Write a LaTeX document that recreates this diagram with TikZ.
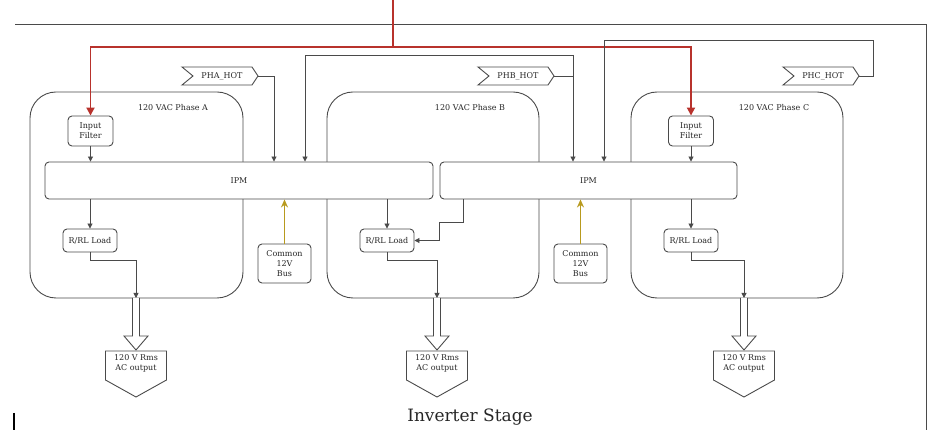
\documentclass[tikz,border=0pt]{standalone}
\usepackage{fontspec}
\setmainfont{DejaVu Serif}
\usetikzlibrary{arrows.meta,calc}
\definecolor{lc}{HTML}{4A4A4A}
\definecolor{tc}{HTML}{262626}
\definecolor{redc}{HTML}{B8322C}
\definecolor{goldc}{HTML}{B89A1E}
\tikzset{
  wire/.style={draw=lc,line width=0.9pt},
  arr/.style={wire,-{Triangle[length=5pt,width=5pt]}},
  redw/.style={draw=redc,line width=1.8pt},
  redarr/.style={redw,-{Triangle[length=8pt,width=8pt]}},
  goldarr/.style={draw=goldc,line width=1.6pt,-{Stealth[length=8pt,width=7pt]}},
  blk/.style={draw=lc,line width=0.9pt,fill=white,rounded corners=4pt,text=tc,
    font=\fontsize{8}{10}\selectfont,align=center,inner sep=1pt},
  phase/.style={draw=lc,line width=0.9pt,rounded corners=26pt},
  lbl/.style={text=tc,font=\fontsize{8}{10}\selectfont},
  tagshape/.style={draw=lc,line width=0.9pt,fill=white},
  hollow/.style={draw=lc,line width=0.9pt,fill=white},
}
\begin{document}
\begin{tikzpicture}[x=1pt,y=-1pt]
\useasboundingbox (0,0) rectangle (927,430);
% frame
\draw[wire] (15,24) -- (926,24) -- (926,430);
\draw[line width=2pt,black] (14,413) -- (14,430);
% phase boxes
\draw[phase] (30,92) rectangle (243,298);
\draw[phase] (327,92) rectangle (539,298);
\draw[phase] (631,92) rectangle (843,298);
\node[lbl] (labA) at (173,108) {120 VAC Phase A};
\node[lbl] (labB) at (470,108) {120 VAC Phase B};
\node[lbl] (labC) at (774,108) {120 VAC Phase C};
% IPMs
\node[blk,minimum width=388pt,minimum height=37pt] (ipmA) at (239,180.5) {IPM};
\node[blk,minimum width=297pt,minimum height=37pt] (ipmB) at (588.5,180.5) {IPM};
% input filters
\node[blk,minimum width=45pt,minimum height=30pt] (filtA) at (90.5,131) {Input\\Filter};
\node[blk,minimum width=45pt,minimum height=30pt] (filtC) at (691,131) {Input\\Filter};
% loads
\node[blk,minimum width=54pt,minimum height=23pt] (loadA) at (90,240.5) {R/RL Load};
\node[blk,minimum width=54pt,minimum height=23pt] (loadB) at (387,240.5) {R/RL Load};
\node[blk,minimum width=54pt,minimum height=23pt] (loadC) at (691,240.5) {R/RL Load};
% buses
\node[blk,minimum width=53pt,minimum height=39pt] (busA) at (284.5,263.5) {Common\\12V\\Bus};
\node[blk,minimum width=53pt,minimum height=39pt] (busB) at (580.5,263.5) {Common\\12V\\Bus};
% tags
\foreach \n/\x/\t in {A/182/PHA\_HOT,B/478/PHB\_HOT,C/783/PHC\_HOT}{
  \draw[tagshape] (\x,67) -- (\x+70,67) -- (\x+76,76) -- (\x+70,85) -- (\x,85) -- (\x+11,76) -- cycle;
  \node[lbl,inner sep=0pt] (tag\n) at (\x+40,76) {\t};
  \coordinate (tip\n) at (\x+76,76);
}
% outputs
\foreach \n/\x in {A/136,B/437,C/744}{
  \draw[hollow] (\x-3.5,298) -- (\x-3.5,336) -- (\x-12,336) -- (\x,350) -- (\x+12,336) -- (\x+3.5,336) -- (\x+3.5,298);
  \draw[hollow] (\x-30.5,351) -- (\x+30.5,351) -- (\x+30.5,380) -- (\x,397) -- (\x-30.5,380) -- cycle;
  \node[lbl,align=center,inner sep=0pt] (out\n) at (\x,363) {120 V Rms\\AC output};
  \coordinate (o\n) at (\x,298);
}
% red feed
\coordinate (feed) at (393,0);
\coordinate (split) at (393,47);
\draw[redw] (feed) -- (split);
\draw[redarr] (split) -| (filtA.north);
\draw[redarr] (split) -| (filtC.north);
% filters to IPM
\draw[arr] (filtA.south) -- (filtA.south |- ipmA.north);
\draw[arr] (filtC.south) -- (filtC.south |- ipmB.north);
% PHA
\coordinate (pA) at (274,76);
\draw[arr] (tipA) -- (pA) -- (pA |- ipmA.north);
% PHB
\coordinate (jB1) at (305,55);
\coordinate (jB2) at (573,55);
\draw[arr] (jB2) -- (jB1) -- (jB1 |- ipmA.north);
\draw[arr] (jB2) -- (jB2 |- ipmB.north);
\draw[wire] (tipB) -- (jB2 |- tipB);
% PHC
\coordinate (jC1) at (873,40);
\coordinate (jC2) at (604,40);
\draw[arr] (tipC) -| (jC1) -- (jC2) -- (jC2 |- ipmB.north);
% IPM to loads
\draw[arr] (loadA |- ipmA.south) -- (loadA.north);
\draw[arr] (loadB |- ipmA.south) -- (loadB.north);
\draw[arr] (loadC |- ipmB.south) -- (loadC.north);
\coordinate (kB) at (463,222);
\coordinate (kB2) at (439,222);
\draw[arr] (kB |- ipmB.south) -- (kB) -- (kB2) -- (kB2 |- loadB.east) -- (loadB.east);
% loads to outputs
\draw[arr] (loadA.south) -- ++(0,8) -| (oA);
\draw[arr] (loadB.south) -- ++(0,8) -| (oB);
\draw[arr] (loadC.south) -- ++(0,8) -| (oC);
% buses
\draw[goldarr] (busA.north) -- (busA.north |- ipmA.south);
\draw[goldarr] (busB.north) -- (busB.north |- ipmB.south);
% title
\node[text=tc,font=\fontsize{17}{20}\selectfont] (title) at (470,417) {Inverter Stage};
\end{tikzpicture}
\end{document}
